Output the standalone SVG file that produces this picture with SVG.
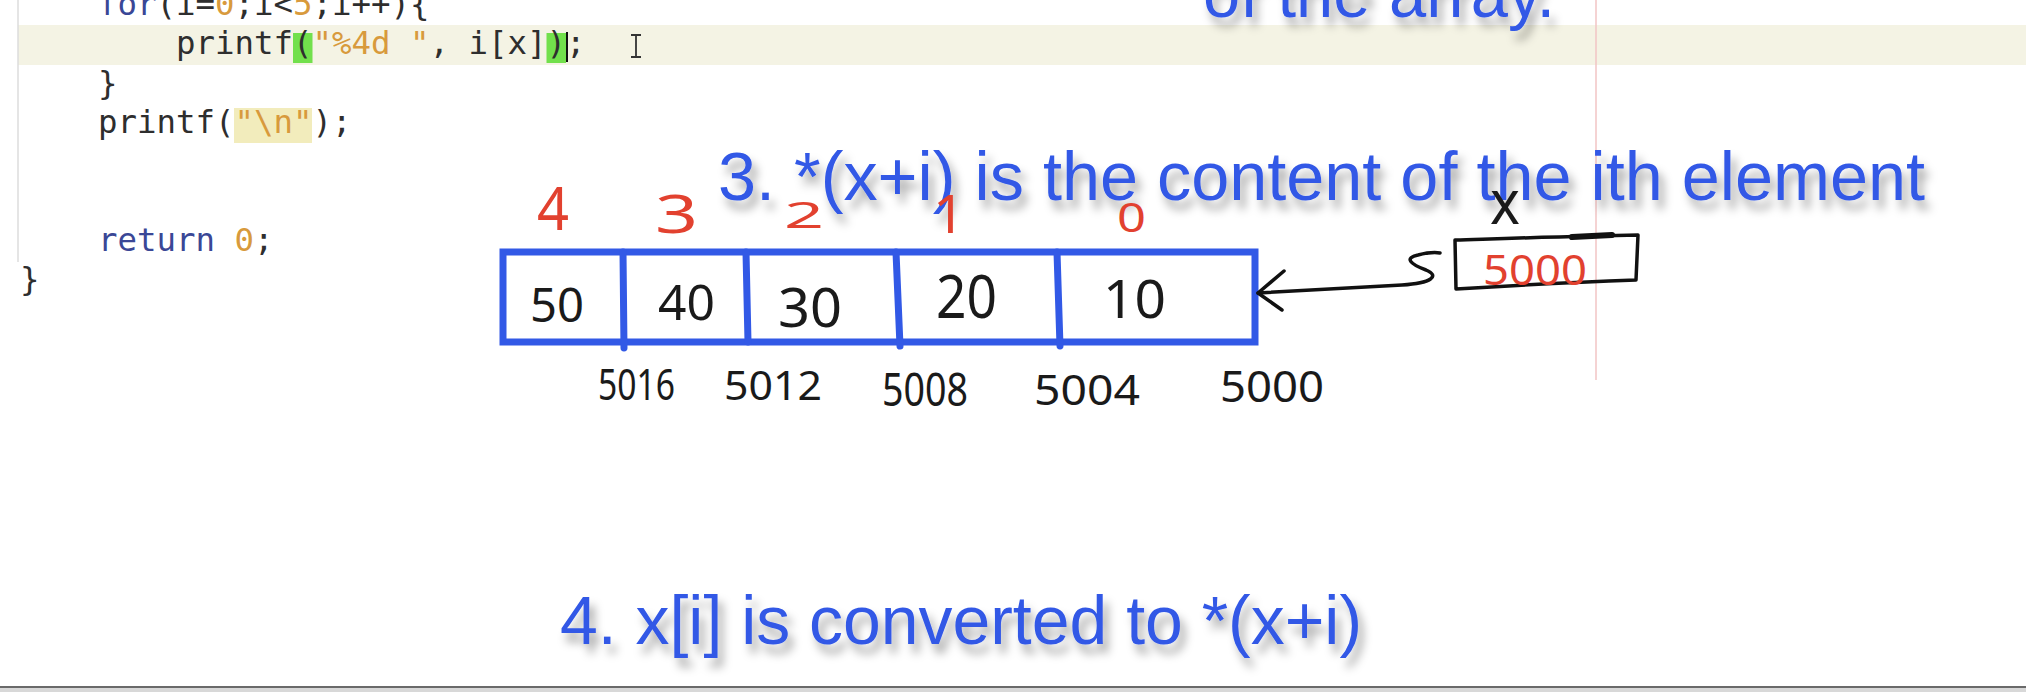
<svg xmlns="http://www.w3.org/2000/svg" width="2026" height="692" viewBox="0 0 2026 692">
<defs>
<style>
.code{font-family:"DejaVu Sans Mono","Liberation Mono",monospace;font-size:32.4px;fill:#2e2e2e}
.kw{fill:#3a4796}
.num{fill:#d89a3c}
.str{fill:#d89a3c}
.note{font-family:"Liberation Sans",Arial,sans-serif;font-size:68px;fill:#3258e6}
.hand{font-family:"Noto Sans","DejaVu Sans",sans-serif;fill:#1a1a1a}
.red{font-family:"Noto Sans","DejaVu Sans",sans-serif;fill:#e2412f}
.ink{fill:none;stroke:#111;stroke-width:3.5;stroke-linecap:round;stroke-linejoin:round}
.cell{fill:none;stroke:#3259e6;stroke-width:7;stroke-linecap:round}
</style>
<filter id="sh" x="-5%" y="-30%" width="115%" height="180%">
<feDropShadow dx="5" dy="9" stdDeviation="5" flood-color="#000" flood-opacity="0.35"/>
</filter>
</defs>
<rect width="2026" height="692" fill="#ffffff"/>
<g id="editor">
<rect x="18" y="25" width="2008" height="40" fill="#f4f3e4"/>
<line x1="18" y1="0" x2="18" y2="262" stroke="#dcdcdc" stroke-width="1.5"/>
<line x1="1596" y1="0" x2="1596" y2="380" stroke="#f2c4c4" stroke-width="1.5"/>
<rect x="293" y="33" width="19.5" height="30" fill="#72e04c"/>
<rect x="546.5" y="33" width="19.5" height="30" fill="#72e04c"/>
<rect x="234" y="108" width="78" height="35" fill="#f2ecbc"/>
<text class="code" xml:space="preserve"><tspan x="98" y="15"><tspan class="kw">for</tspan>(i=<tspan class="num">0</tspan>;i&lt;<tspan class="num">5</tspan>;i++){</tspan><tspan x="176" y="54">printf(<tspan class="str">"%4d "</tspan>, i[x]);</tspan><tspan x="98" y="94">}</tspan><tspan x="98" y="133">printf(<tspan class="str">"\n"</tspan>);</tspan><tspan x="98" y="251"><tspan class="kw">return</tspan> <tspan class="num">0</tspan>;</tspan><tspan x="20" y="290">}</tspan></text>
<line x1="567" y1="32" x2="567" y2="62" stroke="#111" stroke-width="2"/>
<path d="M631,35 H641 M636,35 V57 M631,57 H641" fill="none" stroke="#333" stroke-width="1.8"/>
<rect x="0" y="686" width="2026" height="2" fill="#6a6a6a"/>
<rect x="0" y="688" width="2026" height="4" fill="#d8d8d8"/>
</g>
<g id="notes" filter="url(#sh)">
<text class="note" x="1203" y="17" textLength="352" lengthAdjust="spacingAndGlyphs">of the array.</text>
<text class="note" x="718" y="200" textLength="1207" lengthAdjust="spacingAndGlyphs">3. *(x+i) is the content of the ith element</text>
<text class="note" x="560" y="644" textLength="802" lengthAdjust="spacingAndGlyphs">4. x[i] is converted to *(x+i)</text>
</g>
<g id="array">
<path class="cell" d="M503,252 H1255 V342 H503 Z"/>
<path class="cell" d="M623,252 L624,348 M746,252 L748,342 M896,252 L900,346 M1057,252 L1060,346"/>
<g id="idx" class="red">
<text x="537" y="230" font-size="60" textLength="32" lengthAdjust="spacingAndGlyphs">4</text>
<text x="655" y="233" font-size="52" textLength="43" lengthAdjust="spacingAndGlyphs">3</text>
<text x="784" y="228" font-size="36" textLength="40" lengthAdjust="spacingAndGlyphs">2</text>
<text x="933" y="233" font-size="52" textLength="32" lengthAdjust="spacingAndGlyphs">1</text>
<text x="1117" y="232" font-size="40" textLength="29" lengthAdjust="spacingAndGlyphs">0</text>
</g>
<g id="vals" class="hand">
<text x="530" y="322" font-size="48" textLength="54" lengthAdjust="spacingAndGlyphs">50</text>
<text x="658" y="320" font-size="50" textLength="57" lengthAdjust="spacingAndGlyphs">40</text>
<text x="778" y="327" font-size="54" textLength="64" lengthAdjust="spacingAndGlyphs">30</text>
<text x="936" y="318" font-size="60" textLength="61" lengthAdjust="spacingAndGlyphs">20</text>
<text x="1103" y="318" font-size="52" textLength="63" lengthAdjust="spacingAndGlyphs">10</text>
</g>
<g id="addr" class="hand">
<text x="598" y="400" font-size="44" textLength="77" lengthAdjust="spacingAndGlyphs">5016</text>
<text x="724" y="400" font-size="40" textLength="98" lengthAdjust="spacingAndGlyphs">5012</text>
<text x="882" y="406" font-size="46" textLength="86" lengthAdjust="spacingAndGlyphs">5008</text>
<text x="1034" y="405" font-size="42" textLength="106" lengthAdjust="spacingAndGlyphs">5004</text>
<text x="1220" y="402" font-size="44" textLength="104" lengthAdjust="spacingAndGlyphs">5000</text>
</g>
</g>
<g id="pointer">
<path class="ink" d="M1455,240 C1520,238 1580,236 1638,235 L1636,280 C1580,282 1520,285 1456,289 Z"/>
<path d="M1572,237 L1612,235" stroke="#111" stroke-width="6" stroke-linecap="round"/>
<text class="red" x="1483" y="285" font-size="42" textLength="104" lengthAdjust="spacingAndGlyphs">5000</text>
<text class="hand" x="1490" y="224" font-size="62" textLength="30" lengthAdjust="spacingAndGlyphs">x</text>
</g>
<g id="connectors">
<path class="ink" d="M1258,293 C1310,290 1360,287 1402,285 C1432,283 1440,276 1426,270 C1410,264 1404,258 1418,255 C1426,253 1434,252 1440,253"/>
<path class="ink" d="M1284,271 L1258,293 L1282,310"/>
</g>
</svg>
